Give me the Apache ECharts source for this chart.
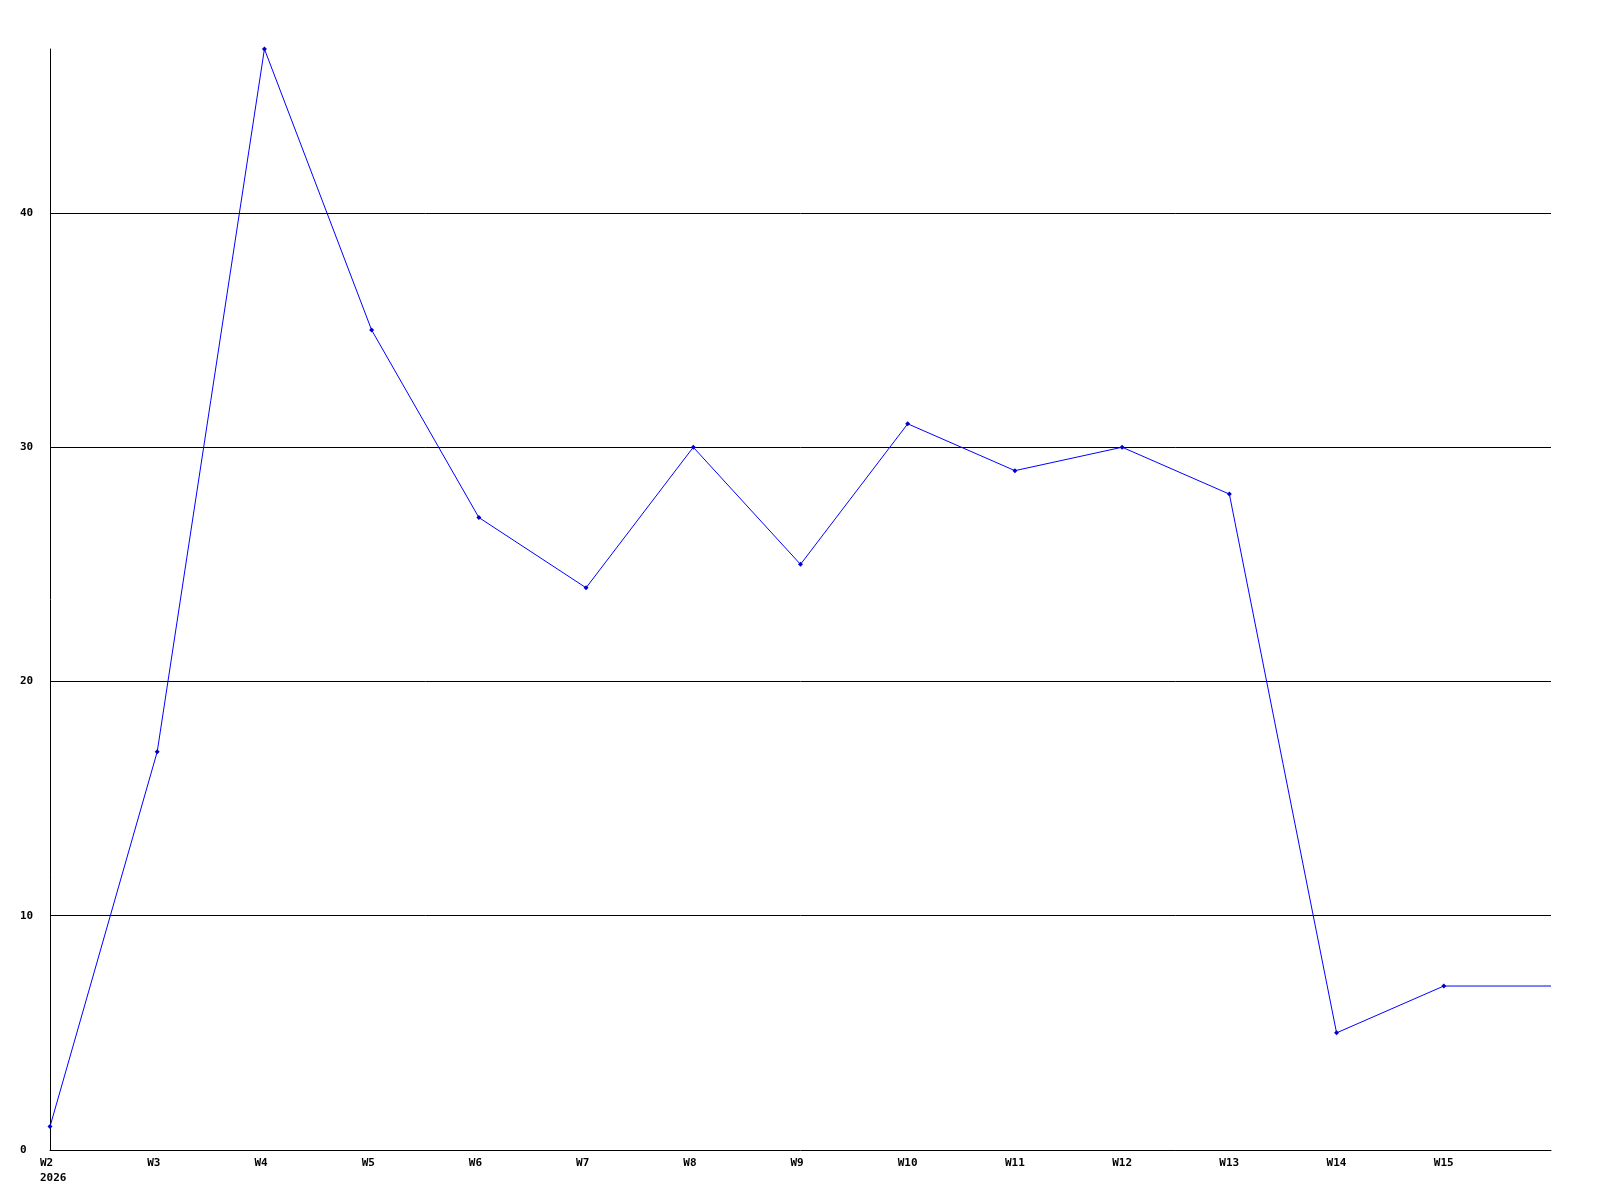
<!DOCTYPE html>
<html>
<head>
<meta charset="utf-8">
<script src="https://cdn.jsdelivr.net/npm/echarts@6/dist/echarts.min.js"></script>
<style>
html,body{margin:0;padding:0;background:#fff;}
#c{width:1600px;height:1200px;}
</style>
</head>
<body>
<div id="c"></div>
<script>
var categories = ['W2','W3','W4','W5','W6','W7','W8','W9','W10','W11','W12','W13','W14','W15','W16'];
var values = [1,17,47,35,27,24,30,25,31,29,30,28,5,7,7];
var yearLabel = '2026';
var yTicks = [0,10,20,30,40];

var chart = echarts.init(document.getElementById('c'), null, {renderer:'canvas'});
var font = 'DejaVu Sans Mono';
var seriesData = values.map(function(v,i){
  return i === values.length - 1 ? {value:v, symbol:'none'} : v;
});
chart.setOption({
  animation:false,
  backgroundColor:'#ffffff',
  grid:{left:50,right:49,top:49,bottom:50,containLabel:false},
  xAxis:{
    type:'category',
    data:categories,
    boundaryGap:false,
    axisLine:{show:true,lineStyle:{color:'#000',width:1}},
    axisTick:{show:false},
    splitLine:{show:false},
    axisLabel:{
      interval:0,
      color:'#000',
      fontFamily:font,
      fontWeight:'bold',
      fontSize:11,
      lineHeight:15,
      align:'left',
      margin:6,
      padding:[0,0,0,-10],
      formatter:function(v,i){
        if(i === categories.length-1) return '';
        return i === 0 ? v + '\n' + yearLabel : v;
      }
    }
  },
  yAxis:{
    type:'value',
    min:0,
    max:47,
    interval:10,
    axisLine:{show:true,lineStyle:{color:'#000',width:1}},
    axisTick:{show:false},
    splitLine:{show:true,showMinLine:false,showMaxLine:false,lineStyle:{color:'#000',width:1}},
    axisLabel:{
      color:'#000',
      fontFamily:font,
      fontWeight:'bold',
      fontSize:11,
      align:'left',
      margin:30,
      showMaxLabel:false,
      formatter:function(v){ return yTicks.indexOf(v) >= 0 ? String(v) : ''; }
    }
  },
  series:[{
    type:'line',
    data:seriesData,
    symbol:'diamond',
    symbolSize:5,
    showAllSymbol:true,
    lineStyle:{color:'#0000ff',width:1},
    itemStyle:{color:'#0000cc'},
    emphasis:{disabled:true}
  }]
});
</script>
</body>
</html>
